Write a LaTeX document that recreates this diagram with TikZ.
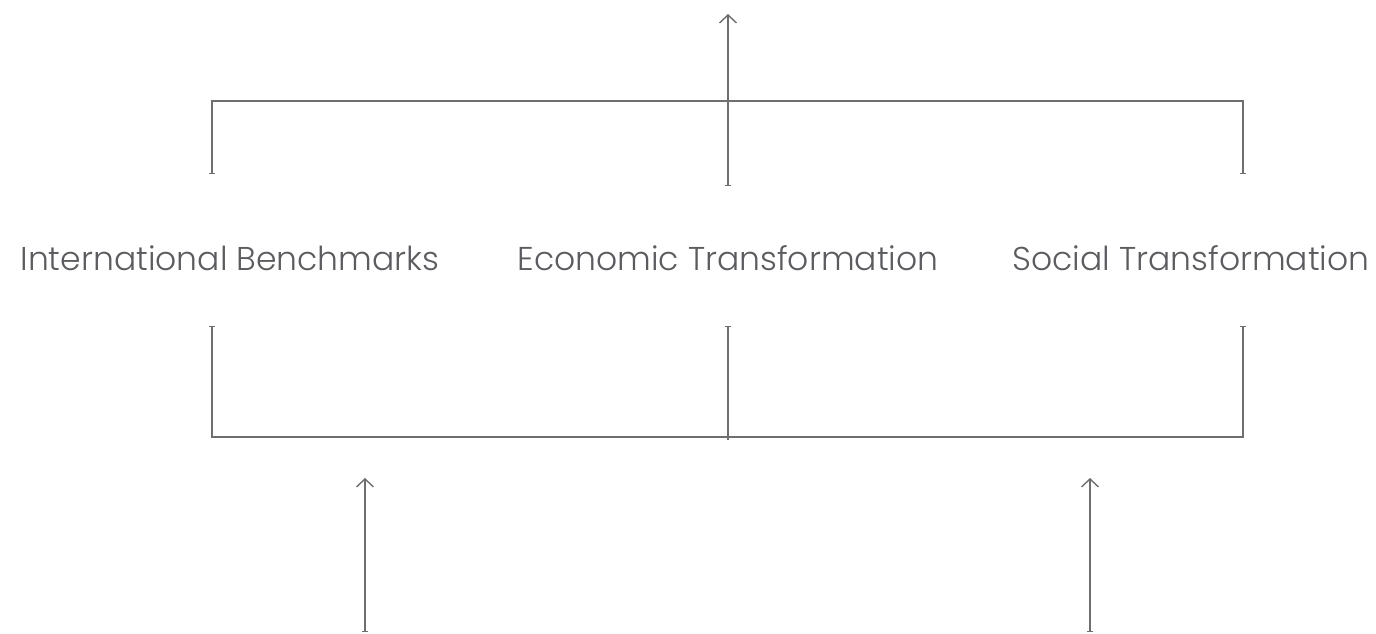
\documentclass[tikz,border=0pt]{standalone}
\usepackage{fontspec}
\setmainfont{Poppins}[UprightFont={* Light}]
\usetikzlibrary{arrows.meta}
\definecolor{linegray}{HTML}{6E6E70}
\definecolor{textgray}{HTML}{5C5C60}
\tikzset{
  barend/.tip={Bar[width=6pt,line width=1.2pt]},
  link/.style={draw=linegray, line width=1.4pt, barend-barend},
  linkup/.style={draw=linegray, line width=1.4pt, barend-{Straight Barb[length=8pt,width=17pt,line width=1.4pt]}},
  label/.style={text=textgray, font=\fontsize{33}{40}\selectfont, inner sep=0pt, anchor=base}
}
\begin{document}
\begin{tikzpicture}[x=1pt,y=-1pt]
  \useasboundingbox (0,0) rectangle (1376,634);
  % the three themes
  \node[label] (ib) at (230,270) {International Benchmarks};
  \node[label] (et) at (728,270) {Economic Transformation};
  \node[label] (st) at (1191,270) {Social Transformation};
  % upper bracket
  \coordinate (tl) at (212,101);
  \coordinate (tr) at (1243,101);
  \coordinate (tlEnd) at (212,174);
  \coordinate (trEnd) at (1243,174);
  \coordinate (tcEnd) at (728,186);
  \coordinate (goal) at (728,14);
  \draw[link] (tlEnd) -- (tl) -- (tr) -- (trEnd);
  \draw[linkup] (tcEnd) -- (goal);
  % lower bracket
  \coordinate (bl) at (212,437);
  \coordinate (br) at (1243,437);
  \coordinate (bc) at (728,440);
  \coordinate (blEnd) at (212,326);
  \coordinate (bcEnd) at (728,326);
  \coordinate (brEnd) at (1243,326);
  \draw[link] (blEnd) -- (bl) -- (br) -- (brEnd);
  \draw[draw=linegray, line width=1.4pt, barend-] (bcEnd) -- (bc);
  % inputs from below
  \coordinate (inA) at (365,632);
  \coordinate (inAtip) at (365,478);
  \coordinate (inB) at (1090,632);
  \coordinate (inBtip) at (1090,478);
  \draw[linkup] (inA) -- (inAtip);
  \draw[linkup] (inB) -- (inBtip);
\end{tikzpicture}
\end{document}
